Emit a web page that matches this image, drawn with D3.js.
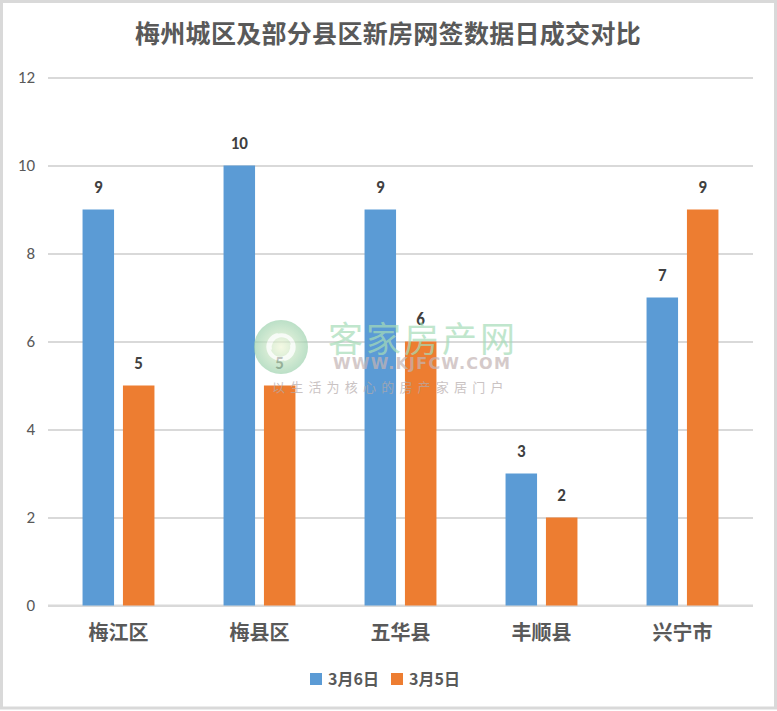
<!DOCTYPE html>
<html>
<head>
<meta charset="utf-8">
<script src="https://cdn.jsdelivr.net/npm/d3@7"></script>
<style>
  body { margin: 0; background: #fff; }
  svg { display: block; font-family: "Noto Sans CJK SC", "Noto Sans", sans-serif; }
</style>
</head>
<body>
<script>
// Data
const categories = ["梅江区", "梅县区", "五华县", "丰顺县", "兴宁市"];
const series = ["3月6日", "3月5日"];
const mar6 = [9, 10, 9, 3, 7];
const mar5 = [5, 5, 6, 2, 9];
const yTicks = [0, 2, 4, 6, 8, 10, 12];
const colors = ["#5B9BD5", "#ED7D31"];

const w = 777, h = 711;
const numFont = "Carlito, Lato, 'Liberation Sans', sans-serif";
const svg = d3.select("body").append("svg")
  .attr("width", w).attr("height", h);

// outer chart border
svg.append("rect")
  .attr("x", 1.5).attr("y", 1.5)
  .attr("width", w - 3).attr("height", h - 4.5)
  .attr("fill", "#fff").attr("stroke", "#d9d9d9").attr("stroke-width", 3);

// title
svg.append("text")
  .attr("x", 388).attr("y", 43)
  .attr("text-anchor", "middle")
  .attr("font-size", 25).attr("font-weight", "bold")
  .attr("letter-spacing", 0.3)
  .attr("fill", "#595959")
  .text("梅州城区及部分县区新房网签数据日成交对比");

const plotL = 48, plotR = 753, plotT = 77.5, plotB = 605.5;

const x0 = d3.scaleBand().domain(categories).range([plotL, plotR])
  .paddingInner(0.49).paddingOuter(0.245);
const x1 = d3.scaleBand().domain(series).range([0, x0.bandwidth()])
  .paddingInner(0.22);
const y = d3.scaleLinear().domain([0, 12]).range([plotB, plotT]);

// gridlines + y labels
const yAxis = svg.append("g")
  .attr("transform", `translate(${plotL},0)`)
  .call(d3.axisLeft(y).tickValues(yTicks).tickSize(-(plotR - plotL)).tickPadding(13));
yAxis.select("path.domain").remove();
yAxis.selectAll("line").attr("stroke", "#d9d9d9").attr("stroke-width", 2);
yAxis.selectAll("text")
  .attr("fill", "#595959").attr("font-size", 17)
  .attr("font-family", numFont);

// x axis baseline
svg.append("line")
  .attr("x1", plotL).attr("x2", plotR)
  .attr("y1", y(0)).attr("y2", y(0))
  .attr("stroke", "#d9d9d9").attr("stroke-width", 2);

// bars
const rows = categories.map((c, i) => ({ cat: c, vals: [mar6[i], mar5[i]] }));
const groups = svg.append("g").selectAll("g")
  .data(rows).join("g")
  .attr("transform", d => `translate(${x0(d.cat)},0)`);

groups.selectAll("rect")
  .data(d => d.vals.map((v, j) => ({ s: series[j], v, j })))
  .join("rect")
  .attr("x", d => x1(d.s))
  .attr("y", d => y(d.v))
  .attr("width", x1.bandwidth())
  .attr("height", d => y(0) - y(d.v))
  .attr("fill", d => colors[d.j]);

groups.selectAll("text.val")
  .data(d => d.vals.map((v, j) => ({ s: series[j], v, j })))
  .join("text")
  .attr("class", "val")
  .attr("x", d => x1(d.s) + x1.bandwidth() / 2)
  .attr("y", d => y(d.v) - 16.5)
  .attr("text-anchor", "middle")
  .attr("font-size", 17).attr("font-weight", "bold")
  .attr("font-family", numFont)
  .attr("fill", "#404040")
  .text(d => d.v);

// watermark, laid over the bars
const wm = svg.append("g").attr("opacity", 0.7);
const grad = svg.append("defs").append("radialGradient").attr("id", "wmg");
grad.append("stop").attr("offset", "0%").attr("stop-color", "#f0f7d8");
grad.append("stop").attr("offset", "100%").attr("stop-color", "#9fd3b0");
wm.append("circle").attr("cx", 281).attr("cy", 347).attr("r", 27)
  .attr("fill", "url(#wmg)");
wm.append("path")
  .attr("d", "M270,350 a12,12 0 1 1 14,9 M292,344 a12,12 0 1 1 -14,-9")
  .attr("fill", "none").attr("stroke", "#fff").attr("stroke-width", 4).attr("opacity", 0.8);
wm.append("text").attr("x", 328).attr("y", 352)
  .attr("font-size", 35).attr("letter-spacing", 3).attr("fill", "#a6dcb8")
  .text("客家房产网");
wm.append("text").attr("x", 333).attr("y", 369)
  .attr("font-size", 16).attr("font-weight", "bold").attr("letter-spacing", 1.2)
  .attr("font-family", "'DejaVu Sans', sans-serif").attr("fill", "#c4b4b4")
  .text("WWW.KJFCW.COM");
wm.append("text").attr("x", 272).attr("y", 392)
  .attr("font-size", 13).attr("letter-spacing", 5.2).attr("fill", "#b5abab")
  .text("以生活为核心的房产家居门户");

// category labels
svg.append("g").selectAll("text")
  .data(categories).join("text")
  .attr("x", d => x0(d) + x0.bandwidth() / 2)
  .attr("y", 640)
  .attr("text-anchor", "middle")
  .attr("font-size", 20).attr("font-weight", "bold")
  .attr("fill", "#595959")
  .text(d => d);

// legend
const legX = [310, 391];
const leg = svg.append("g").selectAll("g")
  .data(series).join("g")
  .attr("transform", (d, i) => `translate(${legX[i]},673)`);
leg.append("rect").attr("width", 12).attr("height", 12)
  .attr("fill", (d, i) => colors[i]);
leg.append("text").attr("x", 18).attr("y", 12)
  .attr("font-size", 16).attr("font-weight", "bold")
  .attr("fill", "#595959")
  .text(d => d);
</script>
</body>
</html>
